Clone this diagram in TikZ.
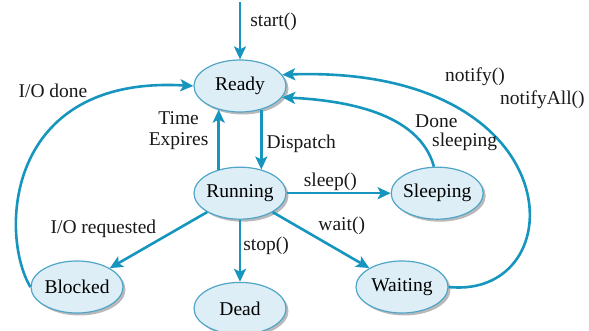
\documentclass[tikz,border=0pt]{standalone}
\usepackage{fontspec}
\setmainfont{Liberation Serif}
\usetikzlibrary{arrows.meta,positioning,shapes.geometric,shadows}
\definecolor{linkblue}{RGB}{22,150,190}
\definecolor{stateblue}{RGB}{221,238,246}
\definecolor{rimblue}{RGB}{80,165,200}
\tikzset{
  tstate/.style={
    ellipse, draw=rimblue, fill=stateblue,
    minimum width=92pt, minimum height=52pt,
    inner xsep=-6pt, inner ysep=0pt, line width=1.2pt,
    font=\fontsize{19.5}{21}\selectfont,
    drop shadow={shadow xshift=2.5pt, shadow yshift=-2.5pt, fill=black!55, opacity=0.5}
  },
  flow/.style={-{Stealth[length=13pt,width=12pt,inset=3pt]}, line width=2.6pt, color=linkblue},
  lbl/.style={font=\fontsize{19.5}{21}\selectfont, inner sep=1pt, text=black!90},
}
\begin{document}
\begin{tikzpicture}[x=1pt, y=1pt, node distance=54pt and 104pt]
  \useasboundingbox (0,0) rectangle (589,331);

  % thread states
  \node[tstate] (ready) at (240,245) {Ready};
  \node[tstate, below=of ready] (running) {Running};
  \node[tstate, right=of running] (sleeping) {Sleeping};
  \node[tstate, below=62pt of running] (dead) {Dead};
  \node[tstate] (blocked) at (77,44) {Blocked};
  \node[tstate] (waiting) at (402,44) {Waiting};

  % entry
  \coordinate (entry) at (240,329);
  \draw[flow] (entry) -- node[lbl, right=8pt, pos=0.35] (lblstart) {start()} (ready);

  % ready <-> running
  \draw[flow] (running.132) -- node[lbl, left=8pt, pos=0.65, align=center] (lbltime) {Time\\Expires} (ready.228);
  \draw[flow] (ready.312) -- node[lbl, right=3pt, pos=0.57] (lbldispatch) {Dispatch} (running.48);

  % out of running
  \draw[flow] (running) -- node[lbl, above, pos=0.42] (lblsleep) {sleep()} (sleeping);
  \draw[flow] (running) -- node[lbl, above right=0pt, pos=0.45] (lblwait) {wait()} (waiting);
  \draw[flow] (running) -- node[lbl, right=1pt, pos=0.42] (lblstop) {stop()} (dead);
  \draw[flow] (running) -- node[lbl, above left=0pt, pos=0.5] (lblioreq) {I/O requested} (blocked);

  % back to ready
  \draw[flow] (sleeping.97) .. controls +(-15,55) and +(60,-3) .. (ready.345);
  \draw[flow] (waiting.east) .. controls +(127,-13) and +(293,10) .. (ready.15);
  \draw[flow] (blocked.west) .. controls +(-31,52) and +(-189,11) .. (ready.west);

  % free labels
  \node[lbl] (lbliodone) at (53,240) {I/O done};
  \node[lbl, align=left, anchor=west] (lbldone) at (414,198) {Done\\[-2pt]\hspace*{17pt}sleeping};
  \node[lbl, align=left, anchor=west] (lblnotify) at (444,243) {notify()\\[2pt]\hspace*{55pt}notifyAll()};

\end{tikzpicture}
\end{document}
